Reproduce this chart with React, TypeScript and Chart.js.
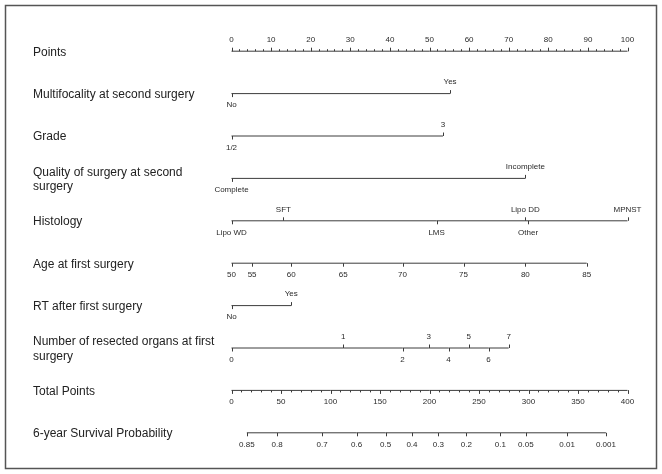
import { useEffect, useRef } from "react";
import { Chart, registerables } from "chart.js";

Chart.register(...registerables);

// ---- Nomogram data ----
const pointsTicks = [0, 10, 20, 30, 40, 50, 60, 70, 80, 90, 100];

const multifocalityLevels = ["No", "Yes"];
const multifocalityPoints = [0, 55.2];

const gradeLevels = ["1/2", "3"];
const gradePoints = [0, 53.4];

const qualityLevels = ["Complete", "Incomplete"];
const qualityPoints = [0, 74.2];

const histologyLevels = ["Lipo WD", "SFT", "LMS", "Lipo DD", "Other", "MPNST"];
const histologyPoints = [0, 13.1, 51.8, 74.2, 74.9, 100];

const ageValues = [50, 55, 60, 65, 70, 75, 80, 85];
const agePoints = [0, 5.2, 15.1, 28.2, 43.2, 58.6, 74.2, 89.7];

const rtLevels = ["No", "Yes"];
const rtPoints = [0, 15.1];

const organCounts = [0, 1, 2, 3, 4, 5, 6, 7];
const organPoints = [0, 28.2, 43.2, 49.8, 54.8, 59.9, 64.9, 70.0];

const totalPointsTicks = [0, 50, 100, 150, 200, 250, 300, 350, 400];

const survivalProbs = [0.85, 0.8, 0.7, 0.6, 0.5, 0.4, 0.3, 0.2, 0.1, 0.05, 0.01, 0.001];
const survivalTotalPoints = [15.5, 46.1, 91.6, 126.4, 155.7, 182.3, 208.9, 237.2, 271.6, 297.3, 339.0, 378.2];

type Side = "above" | "below";
interface Row {
  title: string[];
  axis: "x" | "xt";
  values: number[];
  labels: string[];
  sides: Side[];
  minorStep?: number;
}

const alternate = (n: number): Side[] =>
  Array.from({ length: n }, (_, i) => (i % 2 === 0 ? "below" : "above"));
const same = (n: number, s: Side): Side[] => Array.from({ length: n }, () => s);

const rows: Row[] = [
  { title: ["Points"], axis: "x", values: pointsTicks, labels: pointsTicks.map(String), sides: same(pointsTicks.length, "above"), minorStep: 2 },
  { title: ["Multifocality at second surgery"], axis: "x", values: multifocalityPoints, labels: multifocalityLevels, sides: alternate(2) },
  { title: ["Grade"], axis: "x", values: gradePoints, labels: gradeLevels, sides: alternate(2) },
  { title: ["Quality of surgery at second", "surgery"], axis: "x", values: qualityPoints, labels: qualityLevels, sides: alternate(2) },
  { title: ["Histology"], axis: "x", values: histologyPoints, labels: histologyLevels, sides: alternate(histologyLevels.length) },
  { title: ["Age at first surgery"], axis: "x", values: agePoints, labels: ageValues.map(String), sides: same(ageValues.length, "below") },
  { title: ["RT after first surgery"], axis: "x", values: rtPoints, labels: rtLevels, sides: alternate(2) },
  { title: ["Number of resected organs at first", "surgery"], axis: "x", values: organPoints, labels: organCounts.map(String), sides: alternate(organCounts.length) },
  { title: ["Total Points"], axis: "xt", values: totalPointsTicks, labels: totalPointsTicks.map(String), sides: same(totalPointsTicks.length, "below"), minorStep: 10 },
  { title: ["6-year Survival Probability"], axis: "xt", values: survivalTotalPoints, labels: survivalProbs.map(String), sides: same(survivalProbs.length, "below") },
];

const FONT = '"Liberation Sans", Arial, Helvetica, sans-serif';
const LINE_COLOR = "#3c3c3c";
const TEXT_COLOR = "#222";

const nomogramPlugin = {
  id: "nomogram",
  afterDatasetsDraw(chart: any) {
    const ctx: CanvasRenderingContext2D = chart.ctx;
    const yScale = chart.scales.y;
    ctx.save();

    // outer frame
    ctx.strokeStyle = "#555";
    ctx.lineWidth = 1.5;
    ctx.strokeRect(5.5, 5.5, 651, 463);

    ctx.strokeStyle = LINE_COLOR;
    ctx.lineWidth = 1;

    rows.forEach((row, r) => {
      const meta = chart.getDatasetMeta(r);
      const xScale = chart.scales[row.axis];
      const y = yScale.getPixelForValue(r);

      // variable name on the left
      ctx.fillStyle = TEXT_COLOR;
      ctx.font = `12px ${FONT}`;
      ctx.textAlign = "left";
      ctx.textBaseline = "middle";
      if (row.title.length === 1) {
        ctx.fillText(row.title[0], 33, y + 1);
      } else {
        ctx.fillText(row.title[0], 33, y - 6);
        ctx.fillText(row.title[1], 33, y + 8.5);
      }

      // minor ticks on the points scales
      if (row.minorStep) {
        const dir = row.sides[0] === "above" ? -1 : 1;
        const lo = row.values[0];
        const hi = row.values[row.values.length - 1];
        ctx.beginPath();
        for (let v = lo; v <= hi + 1e-9; v += row.minorStep) {
          const px = Math.round(xScale.getPixelForValue(v)) + 0.5;
          ctx.moveTo(px, y);
          ctx.lineTo(px, y + dir * 2);
        }
        ctx.stroke();
      }

      // major ticks and labels
      ctx.font = `8px ${FONT}`;
      ctx.textAlign = "center";
      meta.data.forEach((pt: any, i: number) => {
        const dir = row.sides[i] === "above" ? -1 : 1;
        const px = Math.round(pt.x) + 0.5;
        ctx.beginPath();
        ctx.moveTo(px, y);
        ctx.lineTo(px, y + dir * 3.5);
        ctx.stroke();
        ctx.fillStyle = "#2a2a2a";
        ctx.fillText(row.labels[i], pt.x, y + dir * 11.5);
      });
    });

    ctx.restore();
  },
};

export default function App() {
  const canvasRef = useRef<HTMLCanvasElement | null>(null);

  useEffect(() => {
    const canvas = canvasRef.current;
    if (!canvas) return;

    const datasets = rows.map((row, r) => ({
      label: row.title.join(" "),
      data: row.values.map((v) => ({ x: v, y: r })),
      xAxisID: row.axis,
      yAxisID: "y",
      borderColor: LINE_COLOR,
      borderWidth: 1,
      pointRadius: 0,
      pointHoverRadius: 0,
      fill: false,
      tension: 0,
      clip: false as any,
    }));

    const chart = new Chart(canvas, {
      type: "line",
      data: { datasets },
      options: {
        responsive: false,
        animation: false,
        events: [],
        layout: { padding: { left: 231.5, right: 34.5, top: 30, bottom: 20 } },
        scales: {
          x: { type: "linear", min: 0, max: 100, display: false },
          xt: { type: "linear", axis: "x", min: 0, max: 400, display: false },
          y: { type: "linear", min: -0.5, max: 9.5, reverse: true, display: false },
        },
        plugins: {
          legend: { display: false },
          tooltip: { enabled: false },
          title: { display: false },
        },
      },
      plugins: [nomogramPlugin],
    });

    return () => chart.destroy();
  }, []);

  return (
    <div style={{ position: "fixed", left: 0, top: 0, width: 662, height: 474, background: "#fff" }}>
      <canvas ref={canvasRef} width={662} height={474} style={{ display: "block" }} />
    </div>
  );
}
